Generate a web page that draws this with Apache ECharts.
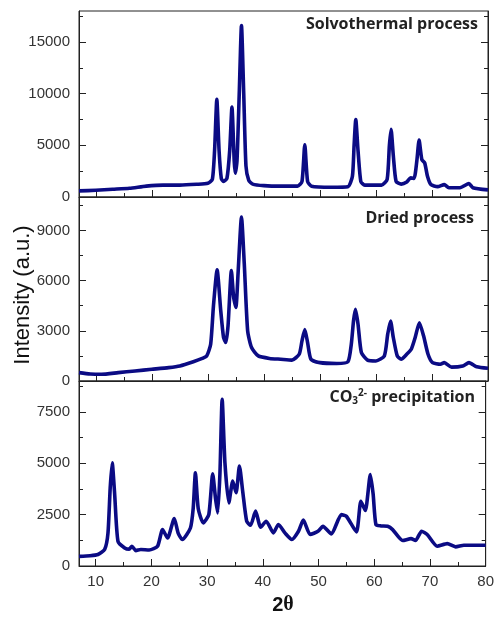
<!DOCTYPE html>
<html>
<head>
<meta charset="utf-8">
<script src="https://cdn.jsdelivr.net/npm/echarts@6/dist/echarts.min.js"></script>
<style>
  html, body { margin: 0; padding: 0; background: #fff; }
  #xrd { width: 497px; height: 617px; }
</style>
</head>
<body>
<div id="xrd"></div>
<script>
  // x-axis ticks (2 theta)
  const xMajor = [10, 20, 30, 40, 50, 60, 70, 80];
  const xMinor = [15, 25, 35, 45, 55, 65, 75];

  // y ticks per panel (top -> bottom)
  const yMaxList = [18000, 11000, 9000];
  const yMajor = [[0, 5000, 10000, 15000], [0, 3000, 6000, 9000], [0, 2500, 5000, 7500]];
  const yMinor = [[2500, 7500, 12500, 17500], [1500, 4500, 7500, 10500], [1250, 3750, 6250, 8750]];

  const panelNames = ['Solvothermal process', 'Dried process', 'CO3 2- precipitation'];

  // Solvothermal process
  const tt1 = [7, 10, 13, 16, 19, 22, 25, 28, 30, 30.8, 31.2, 31.6, 32.0, 32.4, 32.8, 33.4, 33.9, 34.3, 34.7, 34.9,
    35.2, 35.6, 36.0, 36.4, 36.8, 37.3, 38, 40, 43, 46, 46.8, 47.3, 47.8, 48.5, 52, 55, 55.8, 56.1, 56.4, 56.8,
    57.3, 58, 61, 62.0, 62.4, 62.7, 63.1, 63.6, 64.5, 65.5, 66.2, 66.8, 67.3, 67.7, 68.2, 68.7, 69.2, 69.8, 71, 72.2,
    73, 75, 76.6, 77.3, 80];
  const int1 = [590, 650, 750, 850, 1050, 1150, 1150, 1230, 1330, 1700, 4500, 9450, 4500, 1800, 1500, 1800, 4500, 8700, 3500, 2300,
    3500, 10000, 16600, 10000, 3000, 1600, 1250, 1100, 1050, 1050, 1500, 5050, 1500, 1050, 950, 1000, 2000, 5000, 7500, 4500,
    1500, 1150, 1150, 1700, 5000, 6550, 4000, 1500, 1250, 1450, 1850, 1800, 3500, 5500, 3600, 3300, 2000, 1200, 1000, 1200,
    900, 900, 1300, 900, 690];

  // Dried process
  const tt2 = [7, 9, 11, 14, 17, 20, 23, 25, 27.4, 29, 29.8, 30.5, 31.0, 31.65, 32.3, 32.8, 33.2, 33.6, 34.2, 34.6,
    35.0, 35.4, 36.0, 36.5, 37.1, 37.8, 39, 41, 43, 45, 46.3, 46.8, 47.3, 47.8, 48.4, 50, 53, 55, 55.6, 56.0,
    56.35, 56.8, 57.4, 58.5, 60, 61.5, 62.1, 62.6, 63.1, 63.8, 64.5, 65.5, 66.3, 67.0, 67.75, 68.5, 69.3, 70.1, 71.5, 72.2,
    73.5, 75.5, 76.6, 78, 80];
  const int2 = [500, 420, 400, 500, 600, 700, 800, 900, 1150, 1350, 1500, 2200, 4500, 6650, 4200, 2600, 2300, 3300, 6600, 5000,
    4400, 6500, 9800, 7000, 3000, 2000, 1500, 1350, 1300, 1250, 1600, 2400, 3080, 2300, 1300, 1100, 1050, 1150, 2200, 3600,
    4280, 3400, 1700, 1250, 1200, 1500, 2800, 3580, 2600, 1500, 1300, 1600, 1900, 2600, 3480, 2700, 1600, 1100, 1000, 1100,
    830, 900, 1100, 850, 760];

  // CO3 2- precipitation
  const tt3 = [7, 9, 10.4, 11.6, 12.2, 12.6, 12.96, 13.4, 14.0, 15.2, 16.0, 16.5, 17.2, 18.1, 19.6, 21.1, 22.0, 22.9, 24.1, 24.8,
    25.55, 27.0, 27.5, 27.9, 28.4, 29.3, 30.3, 31.0, 31.5, 31.9, 32.3, 32.7, 33.2, 33.9, 34.6, 35.2, 35.8, 36.4, 37.1, 37.8,
    38.7, 39.6, 40.6, 41.9, 42.8, 44, 45.2, 46.4, 47.27, 48.5, 49.9, 50.8, 52.3, 54.1, 55.0, 56.8, 57.6, 58.4, 59.3, 59.8,
    60.3, 61.2, 62.4, 63.3, 65.1, 66.6, 67.4, 68.5, 69.5, 71.3, 73.1, 74.6, 76.1, 79.6, 80];
  const int3 = [470, 500, 560, 800, 1600, 3800, 5020, 3500, 1200, 880, 820, 960, 750, 800, 780, 960, 1770, 1360, 2310, 1600,
    1290, 1850, 2800, 4530, 2800, 2100, 2500, 4480, 3300, 2580, 4500, 8110, 5000, 3070, 4130, 3560, 4860, 3600, 2180, 1980,
    2670, 1890, 2180, 1610, 2020, 1600, 1290, 1690, 2230, 1530, 1690, 1930, 1560, 2500, 2420, 1660, 3150, 2700, 4450, 3500,
    2020, 1950, 1930, 1770, 1240, 1330, 1240, 1690, 1530, 960, 1090, 930, 1010, 1010, 1010];

  const myChart = echarts.init(document.getElementById('xrd'));

  const lineColor = '#0b0b84';
  const axisColor = '#222';
  const labelFont = { color: '#333', fontSize: 15, fontFamily: 'Liberation Sans, Arial, sans-serif' };

  const grids = [
    { left: 79, width: 409, top: 11, height: 186 },
    { left: 79, width: 409, top: 197, height: 184 },
    { left: 79, width: 409, top: 381, height: 185 }
  ];

  // plain numbers, no thousands separator
  const plain = function (v) { return String(v); };

  let xAxes = [];
  let yAxes = [];
  for (let p = 0; p < 3; p++) {
    // major x ticks (labels only on the bottom panel)
    xAxes.push({
      type: 'value', gridIndex: p, position: 'bottom', min: 7, max: 80,
      axisLine: { show: true, lineStyle: { color: axisColor, width: 1 } },
      axisTick: { show: true, inside: true, length: 7, customValues: xMajor, lineStyle: { color: axisColor } },
      axisLabel: p === 2 ? Object.assign({ show: true, margin: 8, customValues: xMajor, formatter: plain }, labelFont) : { show: false },
      splitLine: { show: false }
    });
    // minor x ticks
    xAxes.push({
      type: 'value', gridIndex: p, position: 'bottom', min: 7, max: 80,
      axisLine: { show: false },
      axisTick: { show: true, inside: true, length: 4, customValues: xMinor, lineStyle: { color: axisColor } },
      axisLabel: { show: false },
      splitLine: { show: false }
    });
    ['left', 'right'].forEach(function (side) {
      yAxes.push({
        type: 'value', gridIndex: p, position: side, min: 0, max: yMaxList[p],
        axisLine: { show: true, lineStyle: { color: axisColor, width: 1 } },
        axisTick: { show: true, inside: true, length: 7, customValues: yMajor[p], lineStyle: { color: axisColor } },
        axisLabel: side === 'left' ? Object.assign({ show: true, margin: 9, customValues: yMajor[p], formatter: plain }, labelFont) : { show: false },
        splitLine: { show: false }
      });
      yAxes.push({
        type: 'value', gridIndex: p, position: side, min: 0, max: yMaxList[p],
        axisLine: { show: false },
        axisTick: { show: true, inside: true, length: 4, customValues: yMinor[p], lineStyle: { color: axisColor } },
        axisLabel: { show: false },
        splitLine: { show: false }
      });
    });
  }

  function pairs(xs, ys) {
    let out = [];
    for (let i = 0; i < xs.length; i++) {
      out.push([xs[i], ys[i]]);
    }
    return out;
  }

  const seriesData = [pairs(tt1, int1), pairs(tt2, int2), pairs(tt3, int3)];

  const options = {
    animation: false,
    grid: grids.map(function (g) {
      return Object.assign({ show: true, borderColor: axisColor, borderWidth: 1, backgroundColor: 'transparent' }, g);
    }),
    xAxis: xAxes,
    yAxis: yAxes,
    series: seriesData.map(function (d, p) {
      return {
        name: panelNames[p],
        type: 'line',
        xAxisIndex: p * 2,
        yAxisIndex: p * 4,
        data: d,
        showSymbol: false,
        smooth: 0.2,
        lineStyle: { color: lineColor, width: 3.6, join: 'round' }
      };
    }),
    graphic: [
      {
        type: 'text', x: 478, y: 24,
        style: { text: 'Solvothermal process', align: 'right', verticalAlign: 'middle',
          font: 'bold 16px "Open Sans", sans-serif', fill: '#222' }
      },
      {
        type: 'text', x: 474, y: 218,
        style: { text: 'Dried process', align: 'right', verticalAlign: 'middle',
          font: 'bold 16px "Open Sans", sans-serif', fill: '#222' }
      },
      {
        type: 'text', x: 475, y: 397,
        style: {
          text: '{a|CO}{sub|3}{sup|2-}{a| precipitation}', align: 'right', verticalAlign: 'middle',
          fill: '#222',
          rich: {
            a: { fontFamily: 'Open Sans', fontWeight: 'bold', fontSize: 16, lineHeight: 22, verticalAlign: 'middle' },
            sub: { fontFamily: 'Open Sans', fontWeight: 'bold', fontSize: 10, lineHeight: 22, verticalAlign: 'bottom', padding: [0, 0, 2, 0] },
            sup: { fontFamily: 'Open Sans', fontWeight: 'bold', fontSize: 10, lineHeight: 22, verticalAlign: 'top', padding: [2, 0, 0, 0] }
          }
        }
      },
      {
        type: 'text', x: 23, y: 295, rotation: Math.PI / 2,
        style: { text: 'Intensity (a.u.)', align: 'center', verticalAlign: 'middle',
          font: '22px "Liberation Sans", Arial, sans-serif', fill: '#111' }
      },
      {
        type: 'text', x: 283, y: 605,
        style: {
          text: '{n|2}{t|θ}', align: 'center', verticalAlign: 'middle', fill: '#111',
          rich: {
            n: { fontFamily: 'Liberation Sans', fontWeight: 'bold', fontSize: 20 },
            t: { fontFamily: 'Liberation Serif', fontWeight: 'bold', fontSize: 20 }
          }
        }
      }
    ]
  };

  myChart.setOption(options, true);
  window.addEventListener('resize', function () {
    myChart.resize();
  });
</script>
</body>
</html>
